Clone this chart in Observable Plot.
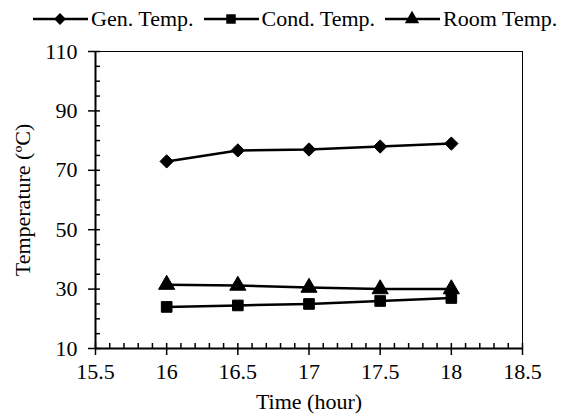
<!DOCTYPE html>
<html><head><meta charset="utf-8">
<script src="https://cdn.jsdelivr.net/npm/d3@7"></script>
<script src="https://cdn.jsdelivr.net/npm/@observablehq/plot@0.6"></script>
<style>
body{margin:0;background:#fff;font-family:"Liberation Serif","Times New Roman",serif;}
#legend{height:34px;display:flex;align-items:center;padding-left:33px;font-size:22px;color:#000;box-sizing:border-box;padding-top:4px;white-space:nowrap}
#legend .item{display:flex;align-items:center;gap:3px;margin-right:10px}
#legend svg{display:block}
</style></head><body>
<div id="legend"></div>
<div id="chart"></div>
<script>
const times = [16, 16.5, 17, 17.5, 18];
const genTemp = [73.0, 76.7, 77.0, 78.0, 79.0];
const condTemp = [24.0, 24.5, 25.0, 26.0, 27.0];
const roomTemp = [31.5, 31.2, 30.5, 30.0, 30.0];
const seriesNames = ["Gen. Temp.", "Cond. Temp.", "Room Temp."];
const seriesSymbols = ["diamond2", "square", "triangle"];
const xTicks = [15.5, 16, 16.5, 17, 17.5, 18, 18.5];
const yTicks = [10, 30, 50, 70, 90, 110];

const seriesValues = [genTemp, condTemp, roomTemp];
const data = seriesValues.flatMap((vals, i) => vals.map((v, j) => ({series: seriesNames[i], time: times[j], temp: v})));

const xMinor = d3.range(155, 186, 1).map(d => d / 10);
const yMinor = d3.range(10, 111, 5);
const font = "'Liberation Serif', 'Times New Roman', serif";

const chart = Plot.plot({
  width: 569,
  height: 382,
  marginTop: 17,
  marginBottom: 68,
  marginLeft: 95,
  marginRight: 47,
  style: {fontFamily: font, fontSize: "22px", color: "#000", background: "#fff", overflow: "visible"},
  x: {domain: [15.5, 18.5], label: null},
  y: {domain: [10, 110], label: null},
  symbol: {domain: seriesNames, range: seriesSymbols},
  marks: [
    Plot.frame({stroke: "#000", strokeWidth: 1}),
    Plot.axisX(xMinor, {tickSize: -5, text: null, stroke: "#000", strokeWidth: 1.5}),
    Plot.axisX(xTicks, {tickSize: 7, tickPadding: 8, stroke: "#000", fill: "#000", strokeWidth: 1.5, fontSize: 22, tickFormat: d => String(d), label: null}),
    Plot.axisY(yMinor, {tickSize: -5, text: null, stroke: "#000", strokeWidth: 1.5}),
    Plot.axisY(yTicks, {tickSize: 7, tickPadding: 11, stroke: "#000", fill: "#000", strokeWidth: 1.5, fontSize: 22, label: null}),
    Plot.ruleX([15.5], {stroke: "#000", strokeWidth: 2}),
    Plot.ruleY([10], {stroke: "#000", strokeWidth: 2}),
    Plot.line(data, {x: "time", y: "temp", z: "series", stroke: "#000", strokeWidth: 2.5}),
    Plot.dot(data, {x: "time", y: "temp", symbol: "series", fill: "#000", stroke: "#000", strokeWidth: 1, r: 6}),
    Plot.text(["Time (hour)"], {frameAnchor: "bottom", dy: 60, fontSize: 22, fill: "#000"}),
    Plot.text(["Temperature (ºC)"], {frameAnchor: "left", textAnchor: "middle", dx: -73, rotate: -90, fontSize: 22, fill: "#000"})
  ]
});
document.getElementById("chart").appendChild(chart);

const legend = document.getElementById("legend");
const d3Syms = {diamond2: d3.symbolDiamond2, square: d3.symbolSquare, triangle: d3.symbolTriangle};
seriesNames.forEach((name, i) => {
  const item = document.createElement("div");
  item.className = "item";
  const sym = d3.symbol(d3Syms[seriesSymbols[i]], 90)();
  item.innerHTML = `<svg width="55" height="16"><line x1="0" x2="55" y1="8" y2="8" stroke="#000" stroke-width="2.5"/><path d="${sym}" transform="translate(27,8)" fill="#000"/></svg><span>${name}</span>`;
  legend.appendChild(item);
});
</script>
</body></html>
